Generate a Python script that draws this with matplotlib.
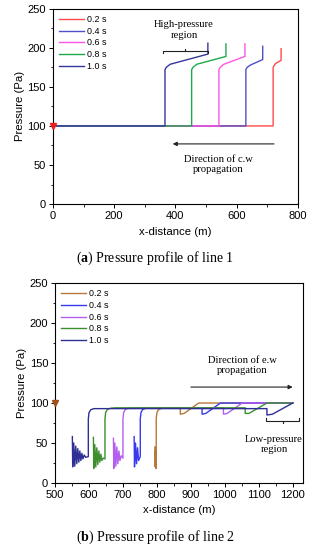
import matplotlib
matplotlib.use("Agg")
import matplotlib.pyplot as plt

plt.rcParams['font.family'] = ['Liberation Sans', 'DejaVu Sans']
plt.rcParams['mathtext.fontset'] = 'custom'
plt.rcParams['mathtext.rm'] = 'Liberation Serif'
plt.rcParams['mathtext.bf'] = 'Liberation Serif:bold'

# ---------------------------------------------------------------------------
# data: (a) line 1, compression wave
times = ['0.2 s', '0.4 s', '0.6 s', '0.8 s', '1.0 s']
colors_a = ['#ff4a4a', '#4f4fc8', '#ff55e6', '#1faa4a', '#35359c']

x_a_02 = [0, 719, 719, 722, 727, 745, 745]
p_a_02 = [100, 100, 175, 177, 180, 184, 199]
x_a_04 = [0, 630, 630, 634, 645, 685, 685]
p_a_04 = [100, 100, 172, 175, 178, 185, 202]
x_a_06 = [0, 542, 542, 546, 558, 627, 627]
p_a_06 = [100, 100, 172, 175, 179, 189, 205]
x_a_08 = [0, 453, 453, 457, 470, 565, 565]
p_a_08 = [100, 100, 172, 175, 179, 189, 205]
x_a_10 = [0, 366, 366, 370, 383, 506, 506]
p_a_10 = [100, 100, 172, 175, 179, 192, 206]

# (b) line 2, expansion wave
colors_b = ['#b8773a', '#3838ee', '#b45ef0', '#3d8f2e', '#2e2e94']

x_b_02 = [794, 795, 796, 797, 798, 798, 800, 805, 815, 830, 869, 869, 880, 923, 1200]
p_b_02 = [45, 20, 40, 18, 25, 80, 88, 92, 93.5, 94, 94, 86, 87, 100, 100]
x_b_04 = [733, 734, 737, 740, 743, 746, 751, 751, 753, 758, 767, 780, 933, 933, 944, 987, 1200]
p_b_04 = [58, 20, 50, 24, 44, 28, 33, 80, 88, 92, 93.5, 94, 94, 86, 87, 100, 100]
x_b_06 = [672, 673, 676, 679, 682, 685, 688, 691, 695, 700, 700, 702, 707, 716, 730, 996, 996, 1007, 1051, 1200]
p_b_06 = [56, 18, 50, 21, 45, 24, 40, 28, 34, 31, 80, 88, 92, 93.5, 94, 94, 86, 87, 100, 100]
x_b_08 = [613, 614, 617, 620, 623, 626, 629, 632, 635, 638, 642, 647, 647, 649, 654, 663, 677,
          1060, 1060, 1071, 1124, 1200]
p_b_08 = [57, 18, 48, 20, 44, 23, 40, 26, 36, 28, 31, 30, 80, 88, 92, 93.5, 94,
          94, 87, 87, 100, 100]
x_b_10 = [551, 552, 555, 558, 561, 564, 567, 570, 573, 576, 579, 582, 586, 590, 598, 598, 600, 605,
          614, 628, 1124, 1124, 1140, 1200]
p_b_10 = [58, 20, 50, 21, 46, 24, 43, 26, 40, 28, 37, 30, 35, 32, 33, 80, 88, 91.5,
          93, 93, 93, 85, 86, 100]

# ---------------------------------------------------------------------------
fig = plt.figure(figsize=(3.11, 5.5), dpi=100)
ax1 = fig.add_axes([0.170, 0.629, 0.788, 0.355])
ax2 = fig.add_axes([0.177, 0.122, 0.797, 0.363])

serif = ['Liberation Serif', 'DejaVu Serif']
ann_size = 7.6

lines_a = [(x_a_02, p_a_02), (x_a_04, p_a_04), (x_a_06, p_a_06), (x_a_08, p_a_08), (x_a_10, p_a_10)]
for (xs, ps), c, t in zip(lines_a, colors_a, times):
    ax1.plot(xs, ps, color=c, lw=1.0, label=t)
ax1.plot([0], [100], marker='v', color='#ee1c1c', ms=5, clip_on=False, zorder=5)

ax1.set_xlim(0, 800)
ax1.set_ylim(0, 250)
ax1.set_xticks([0, 200, 400, 600, 800])
ax1.set_yticks([0, 50, 100, 150, 200, 250])
ax1.set_xlabel('x-distance (m)', fontsize=8.2, labelpad=4)
ax1.set_ylabel('Pressure (Pa)', fontsize=8.2, labelpad=2)

# high-pressure bracket
ax1.plot([359, 359, 506, 506], [193, 196, 196, 193], color='#222222', lw=0.8)
ax1.plot([431, 431], [196, 199], color='#222222', lw=0.8)
ax1.text(428, 223, 'High-pressure\nregion', fontsize=ann_size, family=serif,
         ha='center', va='center', linespacing=1.2)
ax1.annotate('', xy=(382, 77), xytext=(731, 77),
             arrowprops=dict(arrowstyle='-|>', color='#222222', lw=0.8, mutation_scale=6))
ax1.text(540, 51, 'Direction of c.w\npropagation', fontsize=ann_size, family=serif,
         ha='center', va='center', linespacing=1.2)

lines_b = [(x_b_02, p_b_02), (x_b_04, p_b_04), (x_b_06, p_b_06), (x_b_08, p_b_08), (x_b_10, p_b_10)]
for (xs, ps), c, t in zip(lines_b, colors_b, times):
    ax2.plot(xs, ps, color=c, lw=1.0, label=t)
ax2.plot([500], [100], marker='v', color='#a0501a', ms=5, clip_on=False, zorder=5)

ax2.set_xlim(500, 1230)
ax2.set_ylim(0, 250)
ax2.set_xticks([500, 600, 700, 800, 900, 1000, 1100, 1200])
ax2.set_yticks([0, 50, 100, 150, 200, 250])
ax2.set_xlabel('x-distance (m)', fontsize=8.2, labelpad=4)
ax2.set_ylabel('Pressure (Pa)', fontsize=8.2, labelpad=2)

ax2.annotate('', xy=(1208, 120), xytext=(892, 120),
             arrowprops=dict(arrowstyle='-|>', color='#222222', lw=0.8, mutation_scale=6))
ax2.text(1051, 147, 'Direction of e.w\npropagation', fontsize=ann_size, family=serif,
         ha='center', va='center', linespacing=1.2)
ax2.plot([1121, 1121, 1218, 1218], [81, 78, 78, 81], color='#222222', lw=0.8)
ax2.plot([1170, 1170], [78, 75], color='#222222', lw=0.8)
ax2.text(1145, 48, 'Low-pressure\nregion', fontsize=ann_size, family=serif,
         ha='center', va='center', linespacing=1.2)

for ax in (ax1, ax2):
    ax.minorticks_on()
    ax.tick_params(which='major', labelsize=8, length=3, width=0.7, direction='out', pad=2)
    ax.tick_params(which='minor', length=1.8, width=0.6, direction='out')
    for s in ax.spines.values():
        s.set_linewidth(0.8)
    ax.legend(loc='upper left', fontsize=6.4, frameon=False, handlelength=2.8,
              handletextpad=0.3, labelspacing=0.3, borderaxespad=0.3)

ax2.yaxis.set_minor_locator(matplotlib.ticker.MultipleLocator(25))
ax1.yaxis.set_minor_locator(matplotlib.ticker.MultipleLocator(25))
ax2.xaxis.set_minor_locator(matplotlib.ticker.MultipleLocator(50))
ax1.xaxis.set_minor_locator(matplotlib.ticker.MultipleLocator(100))

fig.text(0.5, 1 - 258 / 550, r'($\mathbf{a}$) Pressure profile of line 1', ha='center', va='center',
         fontsize=10, family=serif)
fig.text(0.5, 1 - 537 / 550, r'($\mathbf{b}$) Pressure profile of line 2', ha='center', va='center',
         fontsize=10, family=serif)

fig.savefig('out.png', dpi=100)
